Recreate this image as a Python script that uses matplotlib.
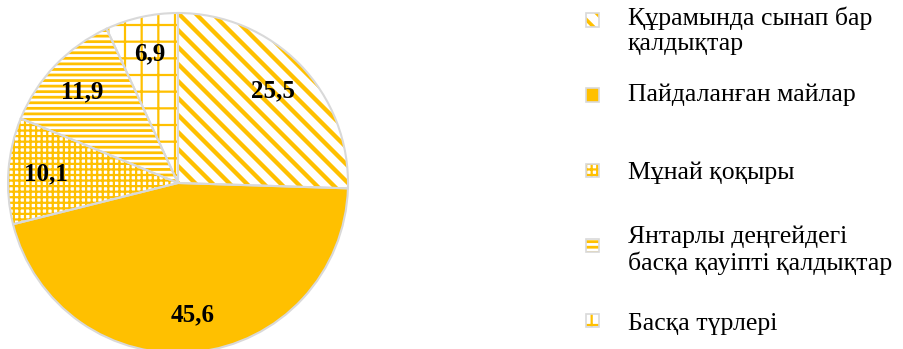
import numpy as np
import matplotlib
matplotlib.use("Agg")
import matplotlib.pyplot as plt
from matplotlib.patches import Rectangle

plt.rcParams['font.family'] = ['Liberation Serif', 'DejaVu Serif']

# slice values, clockwise from 12 o'clock
values = [25.5, 45.6, 10.1, 11.9, 6.9]
labels = [
    'Құрамында сынап бар\nқалдықтар',
    'Пайдаланған майлар',
    'Мұнай қоқыры',
    'Янтарлы деңгейдегі\nбасқа қауіпті қалдықтар',
    'Басқа түрлері',
]
hatches = ['\\\\', None, '+++', '---', '+']
hatch_widths = [2.6, 1.0, 1.6, 2.0, 1.6]

gold = '#FFC000'
edge_gray = '#D9D9D9'

fig = plt.figure(figsize=(9.04, 3.49), dpi=100)
W, H = 904, 349
cx, cy, r = 178, 166, 170
ax = fig.add_axes([(cx - r) / W, (cy - r) / H, 2 * r / W, 2 * r / H])

wedges, autotexts = ax.pie(
    values, startangle=90, counterclock=False, radius=1,
    autopct=lambda p: f'{p:.1f}'.replace('.', ','), pctdistance=0.78,
    textprops=dict(fontsize=18, fontweight='bold', color='black'),
)[0::2]

for i, (w, h, lw) in enumerate(zip(wedges, hatches, hatch_widths)):
    w.set_clip_on(False)
    w.set_linewidth(0)
    if h is None:
        w.set_facecolor(gold)
        w.set_edgecolor(gold)
    elif i == 0:
        # thick diagonal stripes drawn by hand, clipped to the wedge
        w.set_facecolor('white')
        for c in np.arange(-2.4, 2.4, 0.1):
            ln, = ax.plot([-1.3, 1.3], [c + 1.3, c - 1.3], color=gold,
                          lw=lw * 1.2, solid_capstyle='butt', zorder=1.5)
            ln.set_clip_path(w)
    else:
        w.set_facecolor('white')
        w.set_edgecolor(gold)
        w.set_hatch(h)
        if hasattr(w, 'set_hatch_linewidth'):
            w.set_hatch_linewidth(lw)

# gray outlines drawn on top of the fills
outline = ax.pie(values, startangle=90, counterclock=False, radius=1,
                 wedgeprops=dict(fill=False, edgecolor=edge_gray, linewidth=1.5, zorder=3))[0]
for w in outline:
    w.set_clip_on(False)
for t in autotexts:
    t.set_zorder(5)

ax.set_xlim(-1, 1)
ax.set_ylim(-1, 1)
ax.set_aspect('equal')

# legend drawn by hand to match the uneven spacing
marker_y = [20, 95, 170, 245, 320]
text_y = [31, 95, 173, 250, 324]
for i, lab in enumerate(labels):
    s = 13
    x0 = 586
    y0 = H - marker_y[i] - s / 2
    rect = Rectangle((x0 / W, y0 / H), s / W, s / H, transform=fig.transFigure,
                     facecolor=gold if hatches[i] is None else 'white',
                     edgecolor=gold, hatch=hatches[i], linewidth=0)
    if hasattr(rect, 'set_hatch_linewidth'):
        rect.set_hatch_linewidth(hatch_widths[i])
    fig.add_artist(rect)
    fig.add_artist(Rectangle((x0 / W, y0 / H), s / W, s / H, transform=fig.transFigure,
                             fill=False, edgecolor=edge_gray, linewidth=1.2))
    fig.text(628 / W, 1 - text_y[i] / H, lab, fontsize=18.5, va='center', ha='left',
             linespacing=1.2, color='black')

fig.savefig('out.png', dpi=100)
